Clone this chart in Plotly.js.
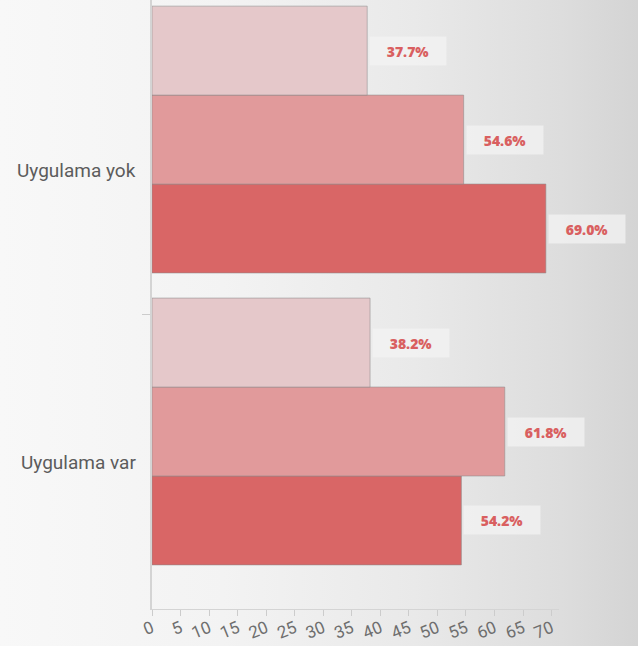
<!DOCTYPE html>
<html>
<head>
<meta charset="utf-8">
<script src="https://cdn.plot.ly/plotly-3.0.1.min.js"></script>
<style>
  html, body { margin: 0; padding: 0; }
  body { width: 638px; height: 646px; overflow: hidden;
         background: linear-gradient(to right, #f8f8f8 0%, #f3f3f3 35%, #e9e9e9 65%, #dddddd 88%, #d4d4d4 100%); }
  #chart { width: 638px; height: 646px; }
</style>
</head>
<body>
<div id="chart"></div>
<script>
// Categories (bottom to top on the axis)
const categories = ["Uygulama var", "Uygulama yok"];
// Three series, listed bottom-most bar in a group first
const seriesDark   = [54.2, 69.0];
const seriesMedium = [61.8, 54.6];
const seriesLight  = [38.2, 37.7];
const xTicks = [0, 5, 10, 15, 20, 25, 30, 35, 40, 45, 50, 55, 60, 65, 70];

const colors = ["#d96666", "#e19a9b", "#e5c8ca"];
const allSeries = [seriesDark, seriesMedium, seriesLight];

const traces = allSeries.map((vals, i) => ({
  type: "bar",
  orientation: "h",
  y: categories,
  x: vals,
  marker: { color: colors[i], line: { color: "rgba(140,140,140,0.55)", width: 1 } },
  hoverinfo: "x+y",
  showlegend: false
}));

// Value labels: position within a group derived from trace index
const nTr = allSeries.length;
const bargap = 0.086;
const slot = (1 - bargap) / nTr;
const annotations = [];
allSeries.forEach((vals, i) => {
  vals.forEach((v, j) => {
    annotations.push({
      x: v, y: j - (1 - bargap) / 2 + slot * (i + 0.5),
      xref: "x", yref: "y",
      xanchor: "left", yanchor: "middle",
      text: v.toFixed(1) + "%",
      showarrow: false,
      xshift: 2,
      width: 74, height: 26,
      align: "center",
      bgcolor: "rgba(243,243,243,0.75)",
      font: { family: "Open Sans, sans-serif", size: 14, color: "#d95f60", weight: 800 }
    });
  });
});
// Category labels (drawn slightly below group centre as in the reference)
categories.forEach((c, j) => {
  annotations.push({
    x: 0, y: j, xref: "paper", yref: "y",
    xanchor: "right", yanchor: "middle",
    xshift: -14, yshift: -31,
    text: c, showarrow: false,
    font: { family: "Roboto, sans-serif", size: 19, color: "#5c5c5c" }
  });
});

const layout = {
  width: 638, height: 646,
  margin: { l: 152, r: 79, t: 0, b: 37 },
  paper_bgcolor: "rgba(0,0,0,0)",
  plot_bgcolor: "rgba(0,0,0,0)",
  barmode: "group",
  bargap: bargap,
  bargroupgap: 0,
  xaxis: {
    range: [0, 71.3],
    tickvals: xTicks,
    ticktext: xTicks.map(String),
    tickangle: -22,
    ticks: "outside", ticklen: 6, tickcolor: "#cccccc",
    ticklabelstandoff: -4,
    showgrid: false, zeroline: false,
    showline: true, linecolor: "#d4d4d4", linewidth: 1,
    tickfont: { family: "Roboto, sans-serif", size: 17, color: "#6e6e6e" }
  },
  yaxis: {
    type: "category",
    range: [-0.608, 1.478],
    showticklabels: false,
    tickmode: "array", tickvals: [0.4], ticktext: [""],
    ticks: "outside", ticklen: 8, tickcolor: "#cccccc",
    showgrid: false, zeroline: false,
    showline: true, linecolor: "#d4d4d4", linewidth: 2
  },
  annotations: annotations
};

Plotly.newPlot("chart", traces, layout, { displayModeBar: false, staticPlot: true });
</script>
</body>
</html>
